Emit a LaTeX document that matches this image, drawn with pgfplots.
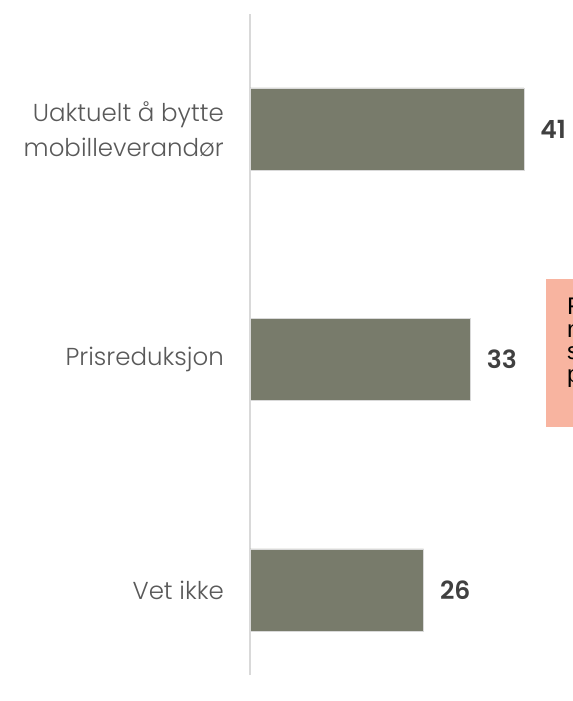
\documentclass[border=0pt]{standalone}
\usepackage{fontspec}
\setmainfont{Poppins}[UprightFont=* Light, BoldFont=* SemiBold]
\newfontfamily\boxfont{Liberation Sans}
\usepackage{pgfplots}
\pgfplotsset{compat=1.18}
\definecolor{barcol}{RGB}{120,123,107}
\definecolor{axcol}{RGB}{217,217,217}
\definecolor{labcol}{RGB}{89,89,89}
\definecolor{numcol}{RGB}{64,64,64}
\definecolor{boxcol}{RGB}{248,180,160}
\begin{document}
\begin{tikzpicture}
\useasboundingbox (0,0) rectangle (573bp,701bp);
\clip (0,0) rectangle (573bp,701bp);
\fill[boxcol] (546bp,274bp) rectangle (600bp,422bp);
\begin{scope}[every node/.style={inner sep=0pt, anchor=base west, font=\boxfont\fontsize{24bp}{24bp}\selectfont, text=black}]
\node at (567bp,386bp) {F};
\node at (567bp,363bp) {n};
\node at (567bp,341bp) {s};
\node at (567bp,318bp) {p};
\end{scope}
\begin{axis}[
  at={(250bp,26bp)}, anchor=south west,
  scale only axis, width=323bp, height=661bp,
  xmin=0, xmax=48.35, ymin=-0.369, ymax=2.499,
  xbar, bar width=82bp,
  axis lines*=left,
  x axis line style={draw=none},
  y axis line style={draw=axcol, line width=2bp},
  xtick=\empty, ytick={0,1,2},
  yticklabels={Vet ikke, Prisreduksjon, {Uaktuelt å bytte\\mobilleverandør}},
  major tick length=0pt,
  yticklabel style={font=\fontsize{24.5bp}{35bp}\selectfont, text=labcol, align=right, inner sep=0pt, xshift=-26bp},
  /pgf/number format/assume math mode=true,
  nodes near coords,
  nodes near coords style={font=\fontsize{25bp}{28bp}\selectfont\bfseries, text=numcol, anchor=west, inner sep=0pt, xshift=16bp},
]
\addplot[fill=barcol, draw=axcol, line width=0.75bp] coordinates {(26,0) (33,1) (41,2)};
\end{axis}
\end{tikzpicture}
\end{document}
